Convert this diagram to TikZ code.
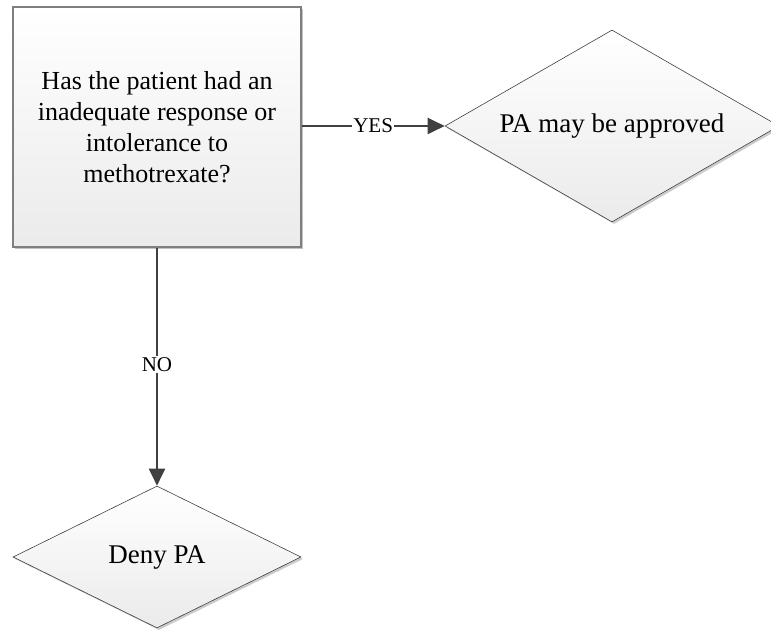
\documentclass[tikz,border=0pt]{standalone}
\usepackage{fontspec}
\setmainfont{Liberation Serif}
\usetikzlibrary{shapes.geometric,arrows.meta,shadows}
\definecolor{linegray}{HTML}{404040}
\definecolor{bordergray}{HTML}{7F7F7F}
\tikzset{
  qbox/.style={rectangle, draw=bordergray, line width=1.2pt, top color=white, bottom color=black!8,
    minimum width=288pt, minimum height=240pt, inner sep=0pt, align=center, font=\fontsize{26}{31}\selectfont,
    drop shadow={shadow xshift=2pt, shadow yshift=-2pt, fill=black!40, opacity=0.6}},
  dshape/.style={diamond, draw=linegray, line width=0.6pt, top color=white, bottom color=black!8,
    inner sep=0pt, font=\fontsize{27}{31}\selectfont,
    drop shadow={shadow xshift=2pt, shadow yshift=-2pt, fill=black!40, opacity=0.5}},
  conn/.style={draw=linegray, line width=2pt, -{Triangle[length=17pt,width=16pt]}},
  lbl/.style={fill=white, inner sep=1.5pt, font=\fontsize{21}{23}\selectfont}
}
\begin{document}
\begin{tikzpicture}[x=1pt,y=-1pt]
\useasboundingbox (0,0) rectangle (771,631);
\node[qbox] (q) at (157,127) {Has the patient had an\\inadequate response or\\intolerance to\\methotrexate?};
\node[dshape, aspect=1.74, minimum width=334pt, minimum height=192pt] (yes) at (612,126) {PA may be approved};
\node[dshape, aspect=2.03, minimum width=288pt, minimum height=142pt] (no) at (157,557) {Deny PA};
\draw[conn] (q.east |- yes.west) -- node[lbl] {YES} (yes.west);
\draw[conn] (q.south) -- node[lbl, pos=0.49] {NO} (no.north);
\end{tikzpicture}
\end{document}
